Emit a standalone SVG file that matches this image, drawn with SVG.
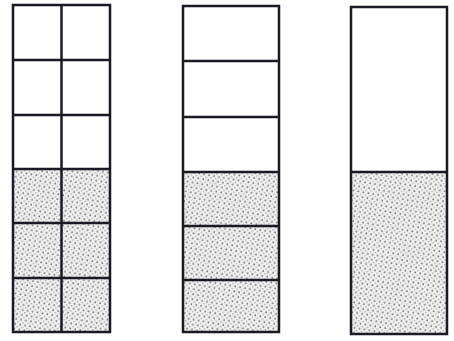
<svg xmlns="http://www.w3.org/2000/svg" width="454" height="341" viewBox="0 0 454 341">
<defs>
<pattern id="dots" width="5" height="5" patternUnits="userSpaceOnUse" patternTransform="rotate(10)">
<rect width="5" height="5" fill="#f2f2f2"/>
<circle cx="1.25" cy="1.25" r="0.9" fill="#6a6a6a"/>
<circle cx="3.75" cy="3.75" r="0.8" fill="#9a9a9a"/>
</pattern>
<style>
.ln{stroke:#1a1a24;stroke-width:2.5;fill:none}
.sh{fill:url(#dots)}
</style>
</defs>
<rect width="454" height="341" fill="#fff"/>
<g id="bar1">
<rect class="sh" x="13" y="169" width="97" height="163"/>
<rect class="ln" x="13" y="5" width="97" height="327"/>
<line class="ln" x1="61.5" y1="5" x2="61.5" y2="332"/>
<line class="ln" x1="13" y1="60" x2="110" y2="60"/>
<line class="ln" x1="13" y1="115" x2="110" y2="115"/>
<line class="ln" x1="13" y1="169" x2="110" y2="169"/>
<line class="ln" x1="13" y1="223" x2="110" y2="223"/>
<line class="ln" x1="13" y1="278" x2="110" y2="278"/>
</g>
<g id="bar2">
<rect class="sh" x="183" y="172" width="96" height="160"/>
<rect class="ln" x="183" y="6" width="96" height="326"/>
<line class="ln" x1="183" y1="61" x2="279" y2="61"/>
<line class="ln" x1="183" y1="117" x2="279" y2="117"/>
<line class="ln" x1="183" y1="172" x2="279" y2="172"/>
<line class="ln" x1="183" y1="226" x2="279" y2="226"/>
<line class="ln" x1="183" y1="280" x2="279" y2="280"/>
</g>
<g id="bar3">
<rect class="sh" x="351" y="172" width="96" height="162"/>
<rect class="ln" x="351" y="7" width="96" height="327"/>
<line class="ln" x1="351" y1="172" x2="447" y2="172"/>
</g>
<g id="connectors"></g>
</svg>
